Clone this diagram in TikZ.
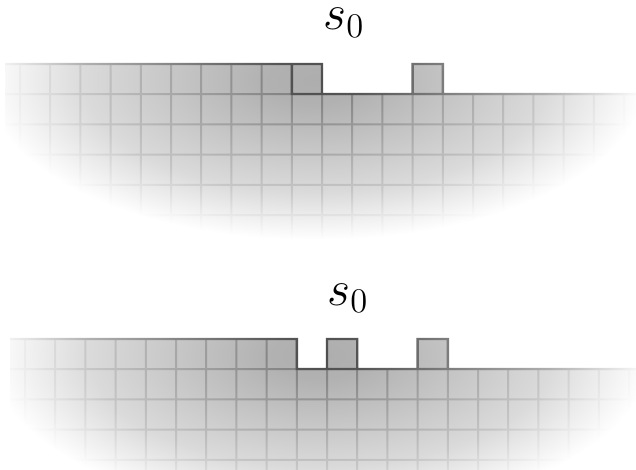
\documentclass[tikz,border=0pt]{standalone}
\definecolor{cellc}{gray}{0.68}
\definecolor{gridc}{gray}{0.50}
\definecolor{edgec}{gray}{0.30}
\pgfdeclareradialshading{cellshade}{\pgfpointorigin}{color(0bp)=(cellc); color(3.75bp)=(cellc!95!white); color(17.5bp)=(cellc!45!white); color(25bp)=(white); color(50bp)=(white)}
\pgfdeclareradialshading{gridshade}{\pgfpointorigin}{color(0bp)=(gridc); color(3.75bp)=(gridc!95!white); color(17.5bp)=(gridc!45!white); color(25bp)=(white); color(50bp)=(white)}
\pgfdeclareradialshading{edgeshade}{\pgfpointorigin}{color(0bp)=(edgec); color(3.75bp)=(edgec!95!white); color(17.5bp)=(edgec!45!white); color(25bp)=(white); color(50bp)=(white)}
\tikzset{
  cellfill/.style={shading=cellshade},
  gridfill/.style={shading=gridshade},
  edgefill/.style={shading=edgeshade},
  lbl/.style={inner sep=0pt, anchor=base west, font=\huge, scale=2.4}
}
\begin{document}
\begin{tikzpicture}[x=1pt,y=-1pt]
\useasboundingbox (0,0) rectangle (636,470);
% ---------- top panel (ellipse bbox: x -15..645, y -80..240) ----------
\shade[cellfill] (-15,-80) (645,240)
  (5,64) -| (322,94) -| (412.6,64) -| (442.8,94) -- (636,94) -- (636,239) -- (5,239) -- cycle;
\shade[gridfill] (-15,-80) (645,240)
  foreach \k in {0,...,9} { ({20+30.2*\k-1},64) rectangle ({20+30.2*\k+1},239) }
  foreach \k in {10,...,20} { ({20+30.2*\k-1},94) rectangle ({20+30.2*\k+1},239) }
  foreach \j in {1,...,5} { (5,{64+30.2*\j-1}) rectangle (636,{64+30.2*\j+1}) };
\shade[edgefill] (-15,-80) (645,240)
  (5,62.8) rectangle (323.2,65.2)
  (290.6,62.8) rectangle (293,95.2)
  (320.8,62.8) rectangle (323.2,95.2)
  (290.6,92.8) rectangle (636,95.2)
  (411.4,62.8) rectangle (444,65.2)
  (411.4,62.8) rectangle (413.8,95.2)
  (441.6,62.8) rectangle (444,95.2);
% ---------- bottom panel (ellipse bbox: x -10..650, y 195..515) ----------
\shade[cellfill] (-10,195) (650,515)
  (10,339) -| (296.8,369) -| (327,339) -| (357.2,369) -| (417.6,339) -| (447.8,369) -- (636,369) -- (636,480) -- (10,480) -- cycle;
\shade[gridfill] (-10,195) (650,515)
  foreach \k in {0,...,9} { ({25+30.2*\k-1},339) rectangle ({25+30.2*\k+1},480) }
  foreach \k in {10,...,20} { ({25+30.2*\k-1},369) rectangle ({25+30.2*\k+1},480) }
  foreach \j in {1,...,4} { (10,{339+30.2*\j-1}) rectangle (636,{339+30.2*\j+1}) };
\shade[edgefill] (-10,195) (650,515)
  (10,337.8) rectangle (298,340.2)
  (295.6,337.8) rectangle (298,370.2)
  (295.6,367.8) rectangle (636,370.2)
  (325.8,337.8) rectangle (358.4,340.2)
  (325.8,337.8) rectangle (328.2,370.2)
  (356,337.8) rectangle (358.4,370.2)
  (416.4,337.8) rectangle (449,340.2)
  (416.4,337.8) rectangle (418.8,370.2)
  (446.6,337.8) rectangle (449,370.2);
% ---------- labels ----------
\node[lbl] (s0top) at (323,30) {$s_0$};
\node[lbl] (s0bot) at (327,305) {$s_0$};
\end{tikzpicture}
\end{document}
